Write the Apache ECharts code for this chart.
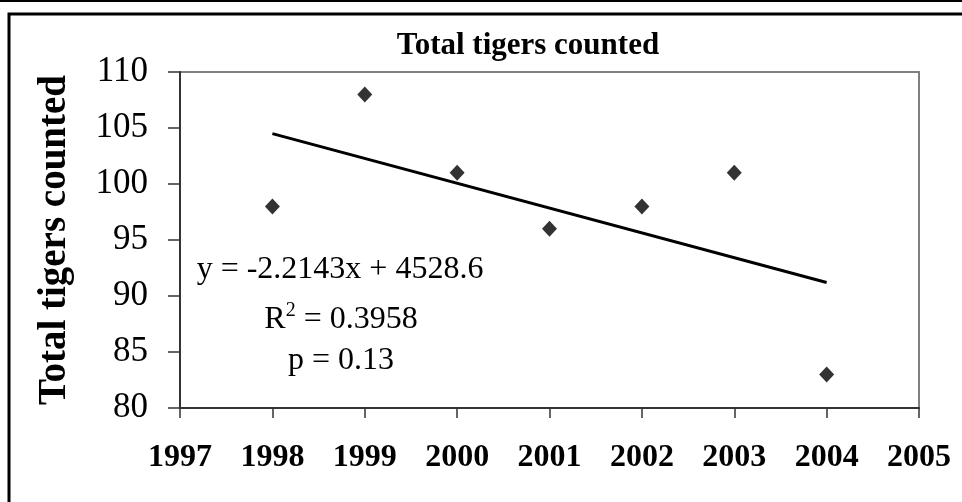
<!DOCTYPE html>
<html>
<head>
<meta charset="utf-8">
<script src="https://cdn.jsdelivr.net/npm/echarts@6/dist/echarts.min.js"></script>
<style>
  html, body { margin: 0; padding: 0; background: #fff; }
  #chart { width: 962px; height: 502px; }
</style>
</head>
<body>
<div id="chart"></div>
<script>
// data
var years = [1998, 1999, 2000, 2001, 2002, 2003, 2004]
var tigers = [98, 108, 101, 96, 98, 101, 83]
// fitted trendline end points (y = -2.2143x + 4528.6)
var trendYears = [1998, 2004]
var trendValues = [104.5, 91.2]
var eqLines = ['y = -2.2143x + 4528.6', 'R{sup|2} = 0.3958', 'p = 0.13']

var serif = '"Liberation Serif", "Times New Roman", serif'

var chart = echarts.init(document.getElementById('chart'))

var points = years.map(function (y, i) { return [y, tigers[i]] })
var trend = trendYears.map(function (y, i) { return [y, trendValues[i]] })

var option = {
    backgroundColor: '#fff',
    animation: false,
    title: {
        text: 'Total tigers counted',
        left: 523,
        top: 25,
        textAlign: 'center',
        textStyle: { fontFamily: serif, fontWeight: 'bold', fontSize: 31, color: '#000' }
    },
    grid: {
        left: 180, right: 43, top: 72, bottom: 94,
        show: true,
        borderColor: '#808080',
        borderWidth: 2
    },
    xAxis: {
        type: 'value',
        min: 1997, max: 2005, interval: 1,
        splitLine: { show: false },
        axisLine: { lineStyle: { color: '#333', width: 2 } },
        axisTick: { inside: false, length: 10, lineStyle: { color: '#333', width: 1.5 } },
        axisLabel: {
            margin: 34,
            color: '#000',
            fontFamily: serif, fontWeight: 'bold', fontSize: 32,
            formatter: function (v) { return String(v) }
        }
    },
    yAxis: {
        type: 'value',
        min: 80, max: 110, interval: 5,
        name: 'Total tigers counted',
        nameLocation: 'middle',
        nameGap: 106,
        nameTextStyle: { fontFamily: serif, fontWeight: 'bold', fontSize: 39, color: '#000' },
        splitLine: { show: false },
        axisLine: { lineStyle: { color: '#333', width: 2 } },
        axisTick: { inside: false, length: 12, lineStyle: { color: '#333', width: 1.5 } },
        axisLabel: {
            margin: 32,
            color: '#000',
            fontFamily: serif, fontSize: 35
        }
    },
    graphic: [
        { type: 'rect', shape: { x: 0, y: 0, width: 962, height: 2 }, style: { fill: '#000' } },
        { type: 'rect', shape: { x: 9, y: 14, width: 1000, height: 600 },
          style: { fill: 'none', stroke: '#000', lineWidth: 3 } },
        { type: 'text', x: 340, y: 270, style: { text: eqLines[0], font: '32px ' + serif, fill: '#000', textAlign: 'center', textVerticalAlign: 'middle' } },
        { type: 'text', x: 341, y: 320, style: { text: eqLines[1], font: '32px ' + serif, fill: '#000', textAlign: 'center', textVerticalAlign: 'middle',
            rich: { sup: { fontSize: 20, fontFamily: serif, verticalAlign: 'top', padding: [0, 0, 18, 0] } } } },
        { type: 'text', x: 341, y: 361, style: { text: eqLines[2], font: '32px ' + serif, fill: '#000', textAlign: 'center', textVerticalAlign: 'middle' } }
    ],
    series: [
        {
            type: 'line',
            data: trend,
            symbol: 'none',
            lineStyle: { color: '#000', width: 3 },
            z: 2
        },
        {
            type: 'scatter',
            data: points,
            symbol: 'diamond',
            symbolSize: [15, 16],
            itemStyle: { color: '#000' },
            z: 3
        }
    ]
}
chart.setOption(option)
</script>
</body>
</html>
